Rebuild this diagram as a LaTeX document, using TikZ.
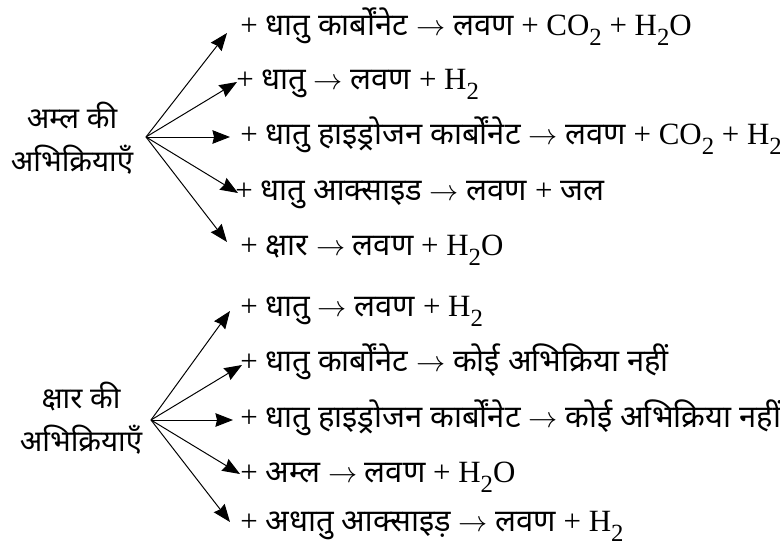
\documentclass[tikz,border=0pt]{standalone}
\usepackage{fontspec}
\usepackage{graphicx}
\usetikzlibrary{arrows.meta,positioning}
\setmainfont{Liberation Serif}
\newfontfamily\hindi[Script=Devanagari]{Noto Sans}
\newcommand{\hi}[1]{{\hindi #1}}
\newcommand{\chsub}[1]{\raisebox{-0.32em}{\scalebox{0.8}{#1}}}
\newcommand{\rarr}{$\rightarrow$}

\begin{document}
\begin{tikzpicture}[x=0.025cm, y=-0.025cm,
    head/.style={align=center, inner sep=0pt, font=\fontsize{21}{31}\selectfont\hindi},
    rxn/.style={anchor=west, inner sep=0pt, text height=16pt, text depth=5pt, font=\fontsize{22}{26}\selectfont},
    arrow/.style={-{Stealth[length=0.44cm, width=0.34cm, inset=0.04cm]}, line width=0.7pt}
  ]
    \useasboundingbox (0,0) rectangle (780,545);

    \node[head] (acid) at (72,138) {अम्ल की\\अभिक्रियाएँ};
    \coordinate (acidfan) at (146,137);
    \node[rxn] (a1) at (240,28) {+ \hi{धातु कार्बोंनेट} \rarr{} \hi{लवण} + CO\chsub{2} + H\chsub{2}O};
    \node[rxn] (a2) at (236,82) {+ \hi{धातु} \rarr{} \hi{लवण} + H\chsub{2}};
    \node[rxn] (a3) at (240,137) {+ \hi{धातु हाइड्रोजन कार्बोंनेट} \rarr{} \hi{लवण} + CO\chsub{2} + H\chsub{2}};
    \node[rxn] (a4) at (235,193) {+ \hi{धातु आक्साइड} \rarr{} \hi{लवण} + \hi{जल}};
    \node[rxn] (a5) at (240,248) {+ \hi{क्षार} \rarr{} \hi{लवण} + H\chsub{2}O};
    \draw[arrow] (acidfan) -- ([shift={(-13,5)}]a1.west);
    \draw[arrow] (acidfan) -- ([shift={(1,0)}]a2.west);
    \draw[arrow] (acidfan) -- ([shift={(-10,0)}]a3.west);
    \draw[arrow] (acidfan) -- ([shift={(3,0)}]a4.west);
    \draw[arrow] (acidfan) -- ([shift={(-13,-6)}]a5.west);

    \node[head] (base) at (81,418) {क्षार की\\अभिक्रियाएँ};
    \coordinate (basefan) at (151,420);
    \node[rxn] (b1) at (240,309) {+ \hi{धातु} \rarr{} \hi{लवण} + H\chsub{2}};
    \node[rxn] (b2) at (240,364) {+ \hi{धातु कार्बोंनेट} \rarr{} \hi{कोई अभिक्रिया नहीं}};
    \node[rxn] (b3) at (240,420) {+ \hi{धातु हाइड्रोजन कार्बोंनेट} \rarr{} \hi{कोई अभिक्रिया नहीं}};
    \node[rxn] (b4) at (240,475) {+ \hi{अम्ल} \rarr{} \hi{लवण} + H\chsub{2}O};
    \node[rxn] (b5) at (240,524) {+ \hi{अधातु आक्साइड़} \rarr{} \hi{लवण} + H\chsub{2}};
    \draw[arrow] (basefan) -- ([shift={(-10,2)}]b1.west);
    \draw[arrow] (basefan) -- ([shift={(2,1)}]b2.west);
    \draw[arrow] (basefan) -- ([shift={(-7,0)}]b3.west);
    \draw[arrow] (basefan) -- ([shift={(0,-1)}]b4.west);
    \draw[arrow] (basefan) -- ([shift={(-10,-2)}]b5.west);
  \end{tikzpicture}
\end{document}
